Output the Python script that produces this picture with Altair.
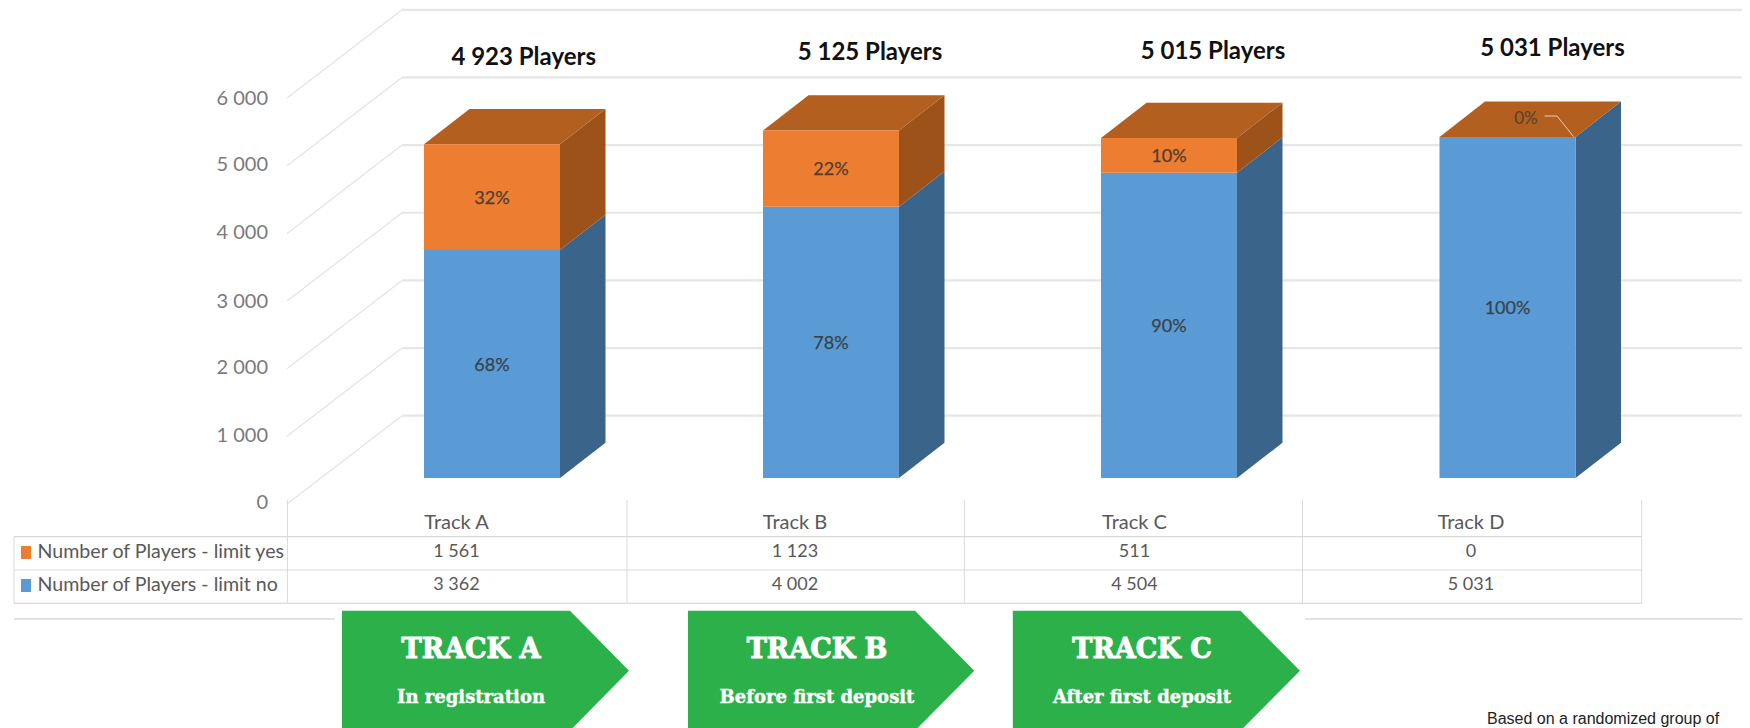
import altair as alt
import pandas as pd

# ---- values ----
tracks = ["Track A", "Track B", "Track C", "Track D"]
limit_yes = [1561, 1123, 511, 0]
limit_no = [3362, 4002, 4504, 5031]
totals_text = ["4 923 Players", "5 125 Players", "5 015 Players", "5 031 Players"]
pct_yes = ["32%", "22%", "10%", "0%"]
pct_no = ["68%", "78%", "90%", "100%"]
ticks = [0, 1000, 2000, 3000, 4000, 5000, 6000]
tick_labels = ["0", "1 000", "2 000", "3 000", "4 000", "5 000", "6 000"]
yes_text = ["1 561", "1 123", "511", "0"]
no_text = ["3 362", "4 002", "4 504", "5 031"]
legend_labels = ["Number of Players - limit yes", "Number of Players - limit no"]
arrow_titles = ["TRACK A", "TRACK B", "TRACK C"]
arrow_subtitles = ["In registration", "Before first deposit", "After first deposit"]
footnote = "Based on a randomized group of"

# ---- layout (reference pixels) ----
W, H = 1742, 728
M = 8
BASE = 478.0
PX = 0.0678
def v(py):
    return (BASE - py) / PX
BAR_L = [424, 763, 1101, 1439.5]
BAR_W = 136
DX = 45.5
DY = 35.3 / PX
TITLE_X = [523.7, 870, 1213, 1552.5]
TITLE_Y = [57.5, 52.5, 51.5, 48.5]
TABLE_X = [456.5, 795, 1134.5, 1471]
ARROW_L = [342, 688, 1012.8]
ARROW_S = [570, 915, 1240.5]
ARROW_T = [629, 974.3, 1300]
ARROW_CX = [471, 817, 1142]
GRID = "#e6e6e6"
TBL = "#d9d9d9"
TXT = "#595959"
FONT = "Lato"

xs = alt.Scale(domain=[M, W], range=[0, W - M])
ys = alt.Scale(domain=[v(H), v(M)], range=[H - M, 0])
X = lambda f="x": alt.X(f"{f}:Q", scale=xs, axis=None)
Y = lambda f="y": alt.Y(f"{f}:Q", scale=ys, axis=None)

layers = []

def lines(segs, color, width):
    rows = []
    for i, pts in enumerate(segs):
        for k, (x, y) in enumerate(pts):
            rows.append({"x": x, "y": y, "id": i, "k": k})
    return alt.Chart(pd.DataFrame(rows)).mark_line(color=color, strokeWidth=width, clip=True).encode(
        x=X(), y=Y(), detail="id:N", order="k:Q")

def text(rows, size, color=TXT, font=FONT, weight="normal", align="center", opacity=1, stroke=0, dy=0):
    kw = dict(stroke=color, strokeWidth=stroke) if stroke else {}
    return alt.Chart(pd.DataFrame(rows)).mark_text(
        fontSize=size, color=color, font=font, fontWeight=weight, align=align,
        baseline="middle", opacity=opacity, dy=dy, **kw).encode(x=X(), y=Y(), text="t:N")

def faces(polys, color):
    rows = []
    for i, pts in enumerate(polys):
        for x, lo, hi in pts:
            rows.append({"x": x, "y": lo, "y2": hi, "id": i})
    return alt.Chart(pd.DataFrame(rows)).mark_area(color=color, orient="vertical", clip=True, opacity=1).encode(
        x=X(), y=Y(), y2="y2:Q", detail="id:N")

# wall + floor gridlines
FLOOR_FRONT = v(504)          # 0 tick at the front of the floor
FLOOR_BACK = v(415.7)
STEP = 67.65 / PX / 1000
diag = [[(287, FLOOR_FRONT + t * STEP), (402, FLOOR_BACK + t * STEP)] for t in ticks]
horiz = [[(402, FLOOR_BACK + t * STEP), (W, FLOOR_BACK + t * STEP)] for t in ticks]
layers.append(lines(diag, "#e4e4e4", 1.2))
layers.append(lines(horiz, GRID, 2.2))

# frame line behind arrows
layers.append(lines([[(14, v(619)), (335, v(619))], [(1305, v(619)), (W, v(619))]], "#e2e2e2", 1.8))

# data table lines
tv = [287.4, 627, 964.3, 1302.5, 1641.7]
vert = [[(x, v(500)), (x, v(603.3))] for x in tv] + [[(14, v(536.7)), (14, v(603.3))]]
hor = [[(14, v(y)), (1641.7, v(y))] for y in (536.7, 570, 603.3)]
layers.append(lines(vert, TBL, 1))
layers.append(lines(hor, TBL, 1.2))

# 3D bars
front_rows = []
side_blue, side_orange, top = [], [], []
for i, t in enumerate(tracks):
    l, r = BAR_L[i], BAR_L[i] + BAR_W
    n, tot = limit_no[i], limit_no[i] + limit_yes[i]
    front_rows.append({"x": l, "x2": r, "y": 0, "y2": n, "c": "#5b9bd5"})
    if limit_yes[i]:
        front_rows.append({"x": l, "x2": r, "y": n, "y2": tot, "c": "#ed7d31"})
        side_orange.append([(r, n, tot), (r + DX, n + DY, tot + DY)])
    side_blue.append([(r, 0, n), (r + DX, DY, n + DY)])
    top.append([(l, tot, tot), (l + DX, tot, tot + DY), (r, tot, tot + DY), (r + DX, tot + DY, tot + DY)])
layers.append(faces(side_blue, "#3a6489"))
layers.append(faces(side_orange, "#9d5219"))
layers.append(faces(top, "#b35f20"))
layers.append(alt.Chart(pd.DataFrame(front_rows)).mark_rect().encode(
    x=X(), x2="x2:Q", y=Y(), y2="y2:Q", color=alt.Color("c:N", scale=None)))

# percent labels
pct = []
for i in range(4):
    cx = BAR_L[i] + BAR_W / 2
    pct.append({"x": cx, "y": limit_no[i] / 2, "t": pct_no[i]})
    if limit_yes[i]:
        pct.append({"x": cx, "y": limit_no[i] + limit_yes[i] / 2, "t": pct_yes[i]})
layers.append(text(pct, 18, color="#333333", opacity=0.85, stroke=0.25, dy=1.5))
layers.append(text([{"x": 1526, "y": v(119), "t": pct_yes[3]}], 17, color="#4a3a2a", opacity=0.85))
layers.append(lines([[(1544.6, v(116)), (1557, v(116)), (1573.6, v(136.7))]], "#e9cdb0", 1))

# totals
layers.append(text([{"x": TITLE_X[i], "y": v(TITLE_Y[i]), "t": totals_text[i]} for i in range(4)],
                   24, color="#111111", weight="bold"))

# value-axis labels
ty = [503, 436, 368, 301.7, 233, 165, 99]
layers.append(text([{"x": 268, "y": v(ty[i]), "t": tick_labels[i]} for i in range(7)], 20, color="#7a7a7a", align="right"))

# table text
head, rows = [], []
for i in range(4):
    head.append({"x": TABLE_X[i], "y": v(522.5), "t": tracks[i]})
    rows.append({"x": TABLE_X[i], "y": v(552), "t": yes_text[i]})
    rows.append({"x": TABLE_X[i], "y": v(585), "t": no_text[i]})
layers.append(text(head, 20))
layers.append(text(rows, 18))
layers.append(text([{"x": 37.5, "y": v(552), "t": legend_labels[0]},
                    {"x": 37.5, "y": v(585), "t": legend_labels[1]}], 19.6, align="left"))
layers.append(alt.Chart(pd.DataFrame([
    {"x": 21, "x2": 31, "y": v(559), "y2": v(546), "c": "#ed7d31"},
    {"x": 21, "x2": 31, "y": v(592), "y2": v(579), "c": "#5b9bd5"},
])).mark_rect().encode(x=X(), x2="x2:Q", y=Y(), y2="y2:Q", color=alt.Color("c:N", scale=None)))

# arrows
A_TOP, A_MID, A_BOT = v(610.7), v(670.7), v(730.7)
layers.append(faces([[(ARROW_L[i], A_BOT, A_TOP), (ARROW_S[i], A_BOT, A_TOP), (ARROW_T[i], A_MID, A_MID)]
                     for i in range(3)], "#2bb04a"))
layers.append(text([{"x": ARROW_CX[i], "y": v(650), "t": arrow_titles[i]} for i in range(3)],
                   27, color="white", font="DejaVu Serif", weight="bold", stroke=1))
layers.append(text([{"x": ARROW_CX[i], "y": v(698), "t": arrow_subtitles[i]} for i in range(3)],
                   18, color="white", font="DejaVu Serif", weight="bold", stroke=0.4))

# footnote
layers.append(text([{"x": 1487, "y": v(719), "t": footnote}], 16, color="#222222",
                   font="Liberation Sans", align="left"))

chart = alt.layer(*layers).properties(
    width=W - M, height=H - M, padding=0,
    autosize=alt.AutoSizeParams(type="none"), background="white",
).configure_view(stroke=None)

chart.save("out.html", embed_options={"renderer": "svg", "actions": False})
